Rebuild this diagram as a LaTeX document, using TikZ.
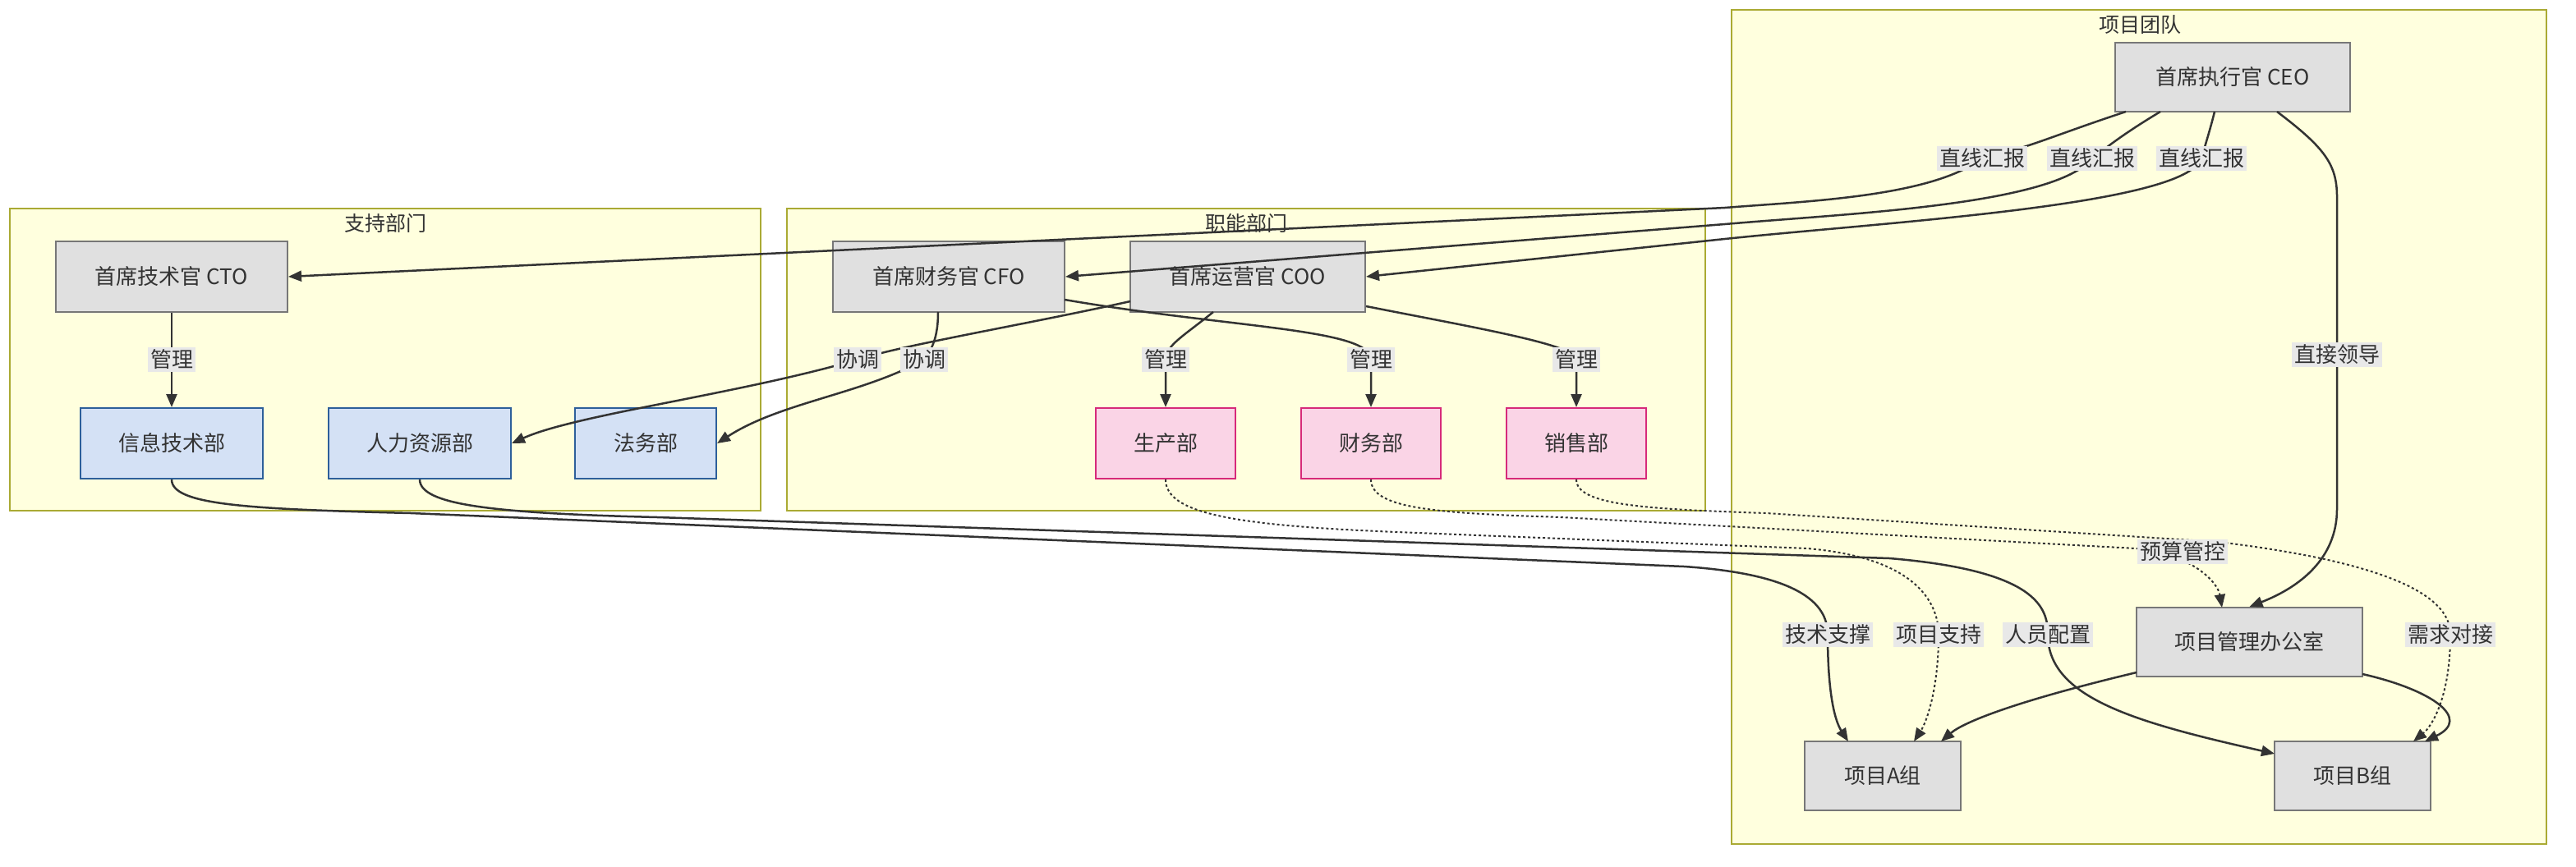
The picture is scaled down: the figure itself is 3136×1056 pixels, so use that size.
\documentclass[tikz,border=0pt]{standalone}
\usepackage{fontspec}
\setmainfont{Noto Sans CJK SC}
\usetikzlibrary{arrows.meta}
\definecolor{clfill}{HTML}{FFFFDE}
\definecolor{clline}{HTML}{AAAA33}
\definecolor{gfill}{HTML}{E0E0E0}
\definecolor{gline}{HTML}{777777}
\definecolor{bfill}{HTML}{D4E1F5}
\definecolor{bline}{HTML}{2D5F9A}
\definecolor{pfill}{HTML}{FAD4E6}
\definecolor{pline}{HTML}{D62A7A}
\definecolor{edge}{HTML}{333333}
\definecolor{lab}{HTML}{E8E8E8}
\tikzset{
 cluster/.style={draw=clline,fill=clfill,line width=2pt},
 ctitle/.style={font=\fontsize{25}{28}\selectfont,text=edge},
 gbox/.style={draw=gline,fill=gfill,line width=2pt,font=\fontsize{26}{30}\selectfont,text=edge},
 bbox/.style={draw=bline,fill=bfill,line width=2pt,font=\fontsize{26}{30}\selectfont,text=edge},
 pbox/.style={draw=pline,fill=pfill,line width=2pt,font=\fontsize{26}{30}\selectfont,text=edge},
 conn/.style={draw=edge,line width=2.5pt,-{Triangle[length=16pt,width=13pt]}},
 dconn/.style={conn,line width=2pt,dash pattern=on 3pt off 3pt},
 elabel/.style={fill=lab,inner sep=3pt,font=\fontsize{26}{30}\selectfont,text=edge},
}
\newcommand{\boxat}[6]{\node[#1,minimum width=#4pt-#2pt,minimum height=#5pt-#3pt,inner sep=0pt] (#6) at ({(#2+#4)/2},{-(#3+#5)/2}) {};}
\begin{document}
\begin{tikzpicture}[x=1pt,y=1pt]
\useasboundingbox (0,0) rectangle (3136,-1056);
\fill[white] (0,0) rectangle (3136,-1056);
% clusters
\draw[cluster] (12,-254) rectangle (926,-622);
\draw[cluster] (958,-254) rectangle (2076,-622);
\draw[cluster] (2108,-12) rectangle (3100,-1028);
\node[ctitle] (t1) at (469,-272) {支持部门};
\node[ctitle] (t2) at (1517,-272) {职能部门};
\node[ctitle] (t3) at (2605,-30) {项目团队};
% nodes
\boxat{gbox}{2575}{52}{2861}{136}{ceo}
\boxat{gbox}{68}{294}{350}{380}{cto}
\boxat{gbox}{1014}{294}{1296}{380}{cfo}
\boxat{gbox}{1376}{294}{1662}{380}{coo}
\boxat{bbox}{98}{497}{320}{583}{it}
\boxat{bbox}{400}{497}{622}{583}{hr}
\boxat{bbox}{700}{497}{872}{583}{law}
\boxat{pbox}{1334}{497}{1504}{583}{prod}
\boxat{pbox}{1584}{497}{1754}{583}{fin}
\boxat{pbox}{1834}{497}{2004}{583}{sale}
\boxat{gbox}{2601}{740}{2876}{824}{pmo}
\boxat{gbox}{2197}{903}{2387}{987}{pa}
\boxat{gbox}{2769}{903}{2959}{987}{pb}
% edges
\draw[conn] (2588,-136) .. controls (2500,-165) and (2470,-180) .. (2413,-193) .. controls (2350,-240) and (2200,-245) .. (2100,-253) -- (cto.east);
\draw[conn] (2630,-136) .. controls (2590,-160) and (2570,-175) .. (2547,-193) .. controls (2500,-250) and (2250,-260) .. (2100,-273) -- (cfo.east);
\draw[conn] (2696,-136) .. controls (2690,-160) and (2685,-175) .. (2680,-193) .. controls (2660,-250) and (2300,-270) .. (2100,-291) -- (coo.east);
\draw[conn] (2772,-136) .. controls (2830,-180) and (2845,-200) .. (2845,-240) -- (2845,-620) .. controls (2845,-680) and (2800,-715) .. (pmo.north);
\draw[conn] (cto.south) -- (it.north);
\draw[conn] (1376,-367) .. controls (1250,-395) and (1100,-420) .. (1044,-438) .. controls (900,-480) and (700,-505) .. (hr.east);
\draw[conn] (1142,-380) .. controls (1142,-410) and (1135,-425) .. (1125,-438) .. controls (1050,-480) and (950,-490) .. (law.east);
\draw[conn] (1477,-380) .. controls (1440,-410) and (1420,-420) .. (1419,-438) -- (prod.north);
\draw[conn] (1296,-365) .. controls (1500,-400) and (1669,-400) .. (1669,-438) -- (fin.north);
\draw[conn] (1663,-373) .. controls (1800,-400) and (1919,-420) .. (1919,-438) -- (sale.north);
\draw[conn] (it.south) .. controls (209,-615) and (300,-620) .. (500,-625) -- (2050,-690) .. controls (2200,-700) and (2225,-740) .. (2225,-773) .. controls (2225,-850) and (2235,-880) .. (2250,-903);
\draw[conn] (hr.south) .. controls (511,-615) and (600,-625) .. (800,-630) -- (2300,-680) .. controls (2480,-695) and (2493,-740) .. (2493,-773) .. controls (2493,-850) and (2600,-880) .. (2769,-918);
\draw[dconn] (prod.south) .. controls (1419,-625) and (1500,-640) .. (1700,-648) -- (2200,-668) .. controls (2340,-680) and (2360,-740) .. (2360,-773) .. controls (2360,-840) and (2345,-880) .. (2330,-903);
\draw[dconn] (fin.south) .. controls (1669,-620) and (1750,-625) .. (1900,-630) -- (2600,-668) .. controls (2670,-675) and (2700,-710) .. (2705,-740);
\draw[dconn] (sale.south) .. controls (1919,-615) and (2000,-620) .. (2150,-625) -- (2700,-660) .. controls (2950,-690) and (2983,-740) .. (2983,-773) .. controls (2983,-850) and (2960,-885) .. (2938,-903);
\draw[conn] (2601,-819) .. controls (2450,-855) and (2390,-880) .. (2363,-903);
\draw[conn] (2876,-821) .. controls (2960,-840) and (3010,-875) .. (2952,-903);
% node texts on top
\foreach \n/\t/\s in {ceo/首席执行官 CEO/gbox,cto/首席技术官 CTO/gbox,cfo/首席财务官 CFO/gbox,coo/首席运营官 COO/gbox,it/信息技术部/bbox,hr/人力资源部/bbox,law/法务部/bbox,prod/生产部/pbox,fin/财务部/pbox,sale/销售部/pbox,pmo/项目管理办公室/gbox,pa/项目A组/gbox,pb/项目B组/gbox}
  \node[\s,draw=none,fill=none] (\n-txt) at (\n.center) {\t};
% labels
\node[elabel] (l1) at (2413,-193) {直线汇报};
\node[elabel] (l2) at (2547,-193) {直线汇报};
\node[elabel] (l3) at (2680,-193) {直线汇报};
\node[elabel] (l4) at (2845,-432) {直接领导};
\node[elabel] (l5) at (209,-438) {管理};
\node[elabel] (l6) at (1044,-438) {协调};
\node[elabel] (l7) at (1125,-438) {协调};
\node[elabel] (l8) at (1419,-438) {管理};
\node[elabel] (l9) at (1669,-438) {管理};
\node[elabel] (l10) at (1919,-438) {管理};
\node[elabel] (l11) at (2225,-773) {技术支撑};
\node[elabel] (l12) at (2360,-773) {项目支持};
\node[elabel] (l13) at (2493,-773) {人员配置};
\node[elabel] (l14) at (2657,-672) {预算管控};
\node[elabel] (l15) at (2983,-773) {需求对接};
\end{tikzpicture}
\end{document}
